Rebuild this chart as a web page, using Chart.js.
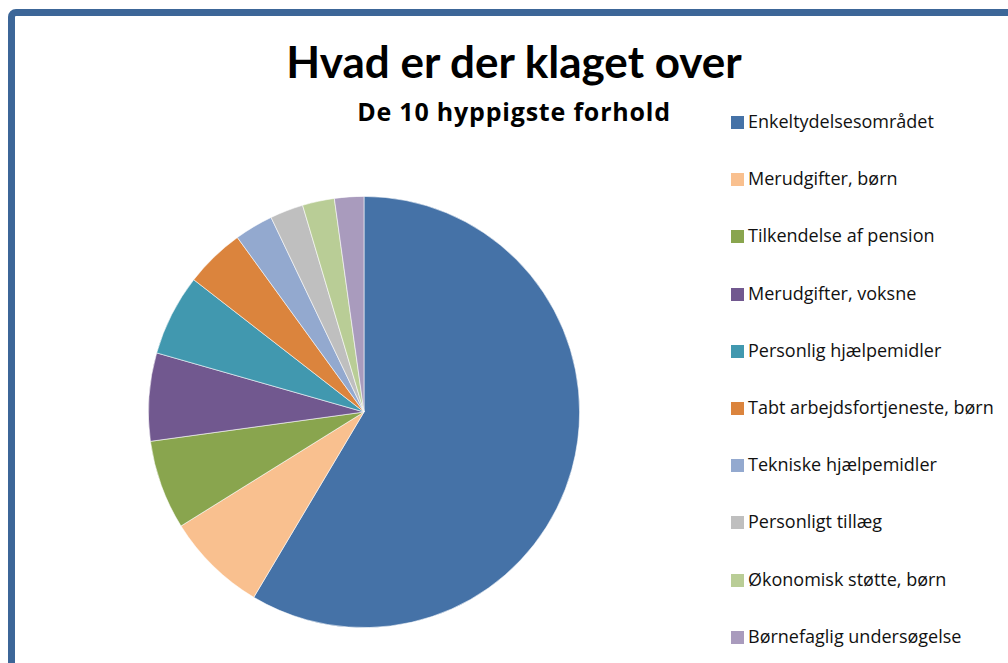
<!DOCTYPE html>
<html>
<head>
<meta charset="utf-8">
<script src="https://cdn.jsdelivr.net/npm/chart.js@4.4.0/dist/chart.umd.min.js"></script>
<style>
    html, body { margin: 0; padding: 0; background: #fff; }
    body { width: 1008px; height: 663px; position: relative; overflow: hidden; font-family: Lato, "Open Sans", sans-serif; }
    .frame {
        position: absolute; left: 8px; top: 9px; width: 1100px; height: 800px;
        border: 7px solid #3c6698; border-radius: 8px; box-sizing: border-box;
    }
    .title, .subtitle { position: absolute; left: 0; width: 1028px; text-align: center; font-weight: bold; color: #000; line-height: 1; white-space: nowrap; }
    .title { top: 39px; font-family: Lato, sans-serif; font-size: 44px; }
    .subtitle { top: 99px; font-family: "Open Sans", sans-serif; font-size: 25px; letter-spacing: 0.8px; }
    #chartWrap { position: absolute; left: 148px; top: 196px; width: 432px; height: 432px; }
    .legend-item { position: absolute; left: 731px; height: 14px; white-space: nowrap; }
    .legend-box { position: absolute; left: 0; top: 0; width: 13px; height: 13px; }
    .legend-text { position: absolute; left: 17px; top: -5px; font-family: "Open Sans", sans-serif; font-size: 18px; color: #111; line-height: 20px; }
</style>
</head>
<body>
<div class="frame"></div>
<div class="title" id="title"></div>
<div class="subtitle" id="subtitle"></div>
<div id="chartWrap"><canvas id="pieChart" width="432" height="432"></canvas></div>
<div id="legend"></div>
<script>
    // Chart data
    const categories = [
        'Enkeltydelsesområdet',
        'Merudgifter, børn',
        'Tilkendelse af pension',
        'Merudgifter, voksne',
        'Personlig hjælpemidler',
        'Tabt arbejdsfortjeneste, børn',
        'Tekniske hjælpemidler',
        'Personligt tillæg',
        'Økonomisk støtte, børn',
        'Børnefaglig undersøgelse'
    ];
    const shares = [58.6, 7.6, 6.7, 6.6, 6.1, 4.5, 2.9, 2.5, 2.4, 2.2];
    const colors = [
        '#4572a7', '#f9c08f', '#89a54e', '#71588f', '#4198af',
        '#db843d', '#93a9cf', '#bfbfbf', '#b9cd96', '#a99bbd'
    ];

    const chartTitle = 'Hvad er der klaget over';
    const chartSubtitle = 'De 10 hyppigste forhold';

    function buildLegend() {
        const legend = document.getElementById('legend');
        categories.forEach((label, i) => {
            const item = document.createElement('div');
            item.className = 'legend-item';
            item.style.top = (116 + 57.2 * i) + 'px';
            item.innerHTML = `<div class="legend-box" style="background:${colors[i]}"></div><div class="legend-text">${label}</div>`;
            legend.appendChild(item);
        });
    }

    function drawChart() {
        const ctx = document.getElementById('pieChart').getContext('2d');
        new Chart(ctx, {
            type: 'pie',
            data: {
                labels: categories,
                datasets: [{
                    data: shares,
                    backgroundColor: colors,
                    borderColor: 'rgba(255,255,255,0.7)',
                    borderWidth: 0.8
                }]
            },
            options: {
                responsive: false,
                animation: false,
                layout: { padding: 0 },
                plugins: {
                    legend: { display: false },
                    tooltip: { enabled: false },
                    title: { display: false }
                }
            }
        });
    }

    document.getElementById('title').textContent = chartTitle;
    document.getElementById('subtitle').textContent = chartSubtitle;
    buildLegend();
    drawChart();
</script>
</body>
</html>
